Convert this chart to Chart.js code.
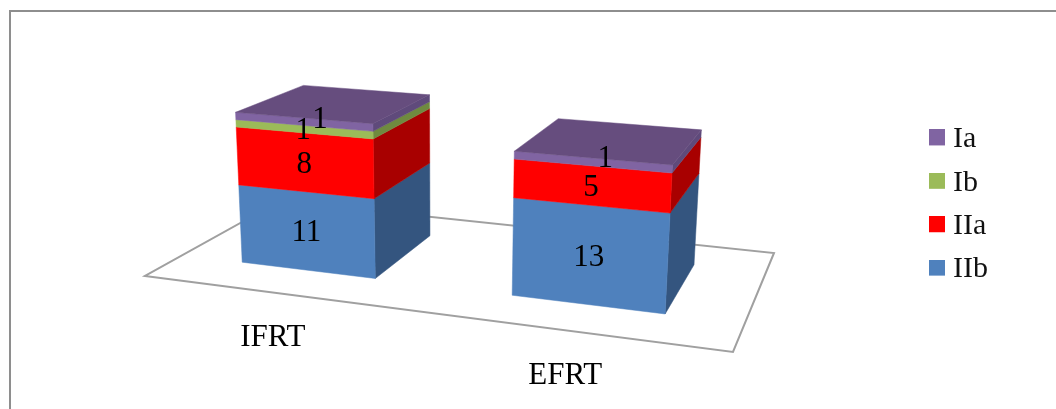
<!DOCTYPE html>
<html>
<head>
<meta charset="utf-8">
<title>IFRT / EFRT</title>
<script src="https://cdn.jsdelivr.net/npm/chart.js@4"></script>
<style>
    html, body { margin: 0; padding: 0; background: #fff; overflow: hidden; }
    #wrap { position: relative; width: 1056px; height: 409px; }
    #frame { position: absolute; left: 9px; top: 10px; right: 0; bottom: 0; border-left: 2px solid #8e8e8e; border-top: 2px solid #8e8e8e; pointer-events: none; }
</style>
</head>
<body>
<div id="wrap">
    <canvas id="stageChart" width="1056" height="409"></canvas>
    <div id="frame"></div>
</div>
<script>
    const categories = ['IFRT', 'EFRT'];
    const seriesNames = ['IIb', 'IIa', 'Ib', 'Ia'];
    const valuesIIb = [11, 13];
    const valuesIIa = [8, 5];
    const valuesIb = [1, 0];
    const valuesIa = [1, 1];

    const frontColors = ['#4f81bd', '#ff0000', '#9bbb59', '#8064a2'];
    const sideColors = ['#34557f', '#a80000', '#6f8a3f', '#5f4a7b'];
    const topColor = '#664d7e';
    const fontName = '"Liberation Serif", "Times New Roman", serif';

    // camera for the stage: u across, v into depth, t = stack value
    const camX = [487.92, 191.45, -0.694, 145];
    const camY = [27.94, -34.48, -7.55, 276];
    const camW = [-0.13653, 0.20161, -0.00156, 1];
    const depthFront = 0.245;
    const depthBack = 0.766;
    const barShiftU = -0.003;

    function project(u, v, t) {
        const w = camW[0] * u + camW[1] * v + camW[2] * t + camW[3];
        return {
            x: (camX[0] * u + camX[1] * v + camX[2] * t + camX[3]) / w,
            y: (camY[0] * u + camY[1] * v + camY[2] * t + camY[3]) / w
        };
    }

    function fillFace(ctx, pts, color) {
        ctx.beginPath();
        pts.forEach((p, i) => i ? ctx.lineTo(p.x, p.y) : ctx.moveTo(p.x, p.y));
        ctx.closePath();
        ctx.fillStyle = color;
        ctx.strokeStyle = color;
        ctx.lineWidth = 0.5;
        ctx.fill();
        ctx.stroke();
    }

    // Legend swatch as a point style, extra height lifts it level with the text
    function swatch(color) {
        const c = document.createElement('canvas');
        c.width = 16;
        c.height = 20;
        const g = c.getContext('2d');
        g.fillStyle = color;
        g.fillRect(0, 0, 16, 16);
        return c;
    }

    // Replaces the flat bars with boxes standing on a floor plate
    const boxBars = {
        id: 'boxBars',
        beforeDatasetDraw() {
            return false;
        },
        beforeDatasetsDraw(chart) {
            const ctx = chart.ctx;
            const area = chart.chartArea;
            const yScale = chart.scales.y;
            const toU = px => (px - area.left) / area.width + barShiftU;

            ctx.save();
            ctx.beginPath();
            [[0, 0], [1, 0], [1, 1], [0, 1]].forEach(([u, v], i) => {
                const p = project(u, v, 0);
                i ? ctx.lineTo(p.x, p.y) : ctx.moveTo(p.x, p.y);
            });
            ctx.closePath();
            ctx.strokeStyle = '#a0a0a0';
            ctx.lineWidth = 2;
            ctx.stroke();

            categories.forEach((name, j) => {
                let u0, u1, uMid, topT = 0, topIndex = 0;
                chart.data.datasets.forEach((ds, i) => {
                    if (!ds.data[j]) return;
                    const bar = chart.getDatasetMeta(i).data[j];
                    u0 = toU(bar.x - bar.width / 2);
                    u1 = toU(bar.x + bar.width / 2);
                    uMid = toU(bar.x);
                    const t0 = yScale.getValueForPixel(bar.base);
                    const t1 = yScale.getValueForPixel(bar.y);
                    fillFace(ctx, [project(u1, depthFront, t0), project(u1, depthBack, t0), project(u1, depthBack, t1), project(u1, depthFront, t1)], sideColors[i]);
                    fillFace(ctx, [project(u0, depthFront, t0), project(u1, depthFront, t0), project(u1, depthFront, t1), project(u0, depthFront, t1)], frontColors[i]);
                    topT = t1;
                    topIndex = i;
                });
                fillFace(ctx, [project(u0, depthFront, topT), project(u1, depthFront, topT), project(u1, depthBack, topT), project(u0, depthBack, topT)], topColor);

                ctx.fillStyle = '#000';
                ctx.textAlign = 'center';
                ctx.textBaseline = 'middle';
                ctx.font = '31px ' + fontName;

                // value labels, the top one is nudged back onto the lid
                chart.data.datasets.forEach((ds, i) => {
                    if (!ds.data[j]) return;
                    const bar = chart.getDatasetMeta(i).data[j];
                    const tMid = (yScale.getValueForPixel(bar.base) + yScale.getValueForPixel(bar.y)) / 2;
                    const isTop = i === topIndex;
                    const p = project(uMid + (isTop ? 0.012 : 0), depthFront + (isTop ? 0.08 : 0), tMid);
                    ctx.fillText(String(ds.data[j]), p.x, p.y + 2);
                });

                const foot = project(uMid, 0, 0);
                ctx.fillText(name, foot.x - 2, foot.y + 45);
            });
            ctx.restore();
        }
    };

    new Chart(document.getElementById('stageChart').getContext('2d'), {
        type: 'bar',
        data: {
            labels: categories,
            datasets: [valuesIIb, valuesIIa, valuesIb, valuesIa].map((values, i) => ({
                label: seriesNames[i],
                data: values,
                backgroundColor: frontColors[i],
                borderWidth: 0,
                categoryPercentage: 1,
                barPercentage: 0.51
            }))
        },
        options: {
            responsive: false,
            animation: false,
            layout: { padding: { right: 58 } },
            scales: {
                x: { stacked: true, display: false },
                y: { stacked: true, display: false, min: 0, max: 25 }
            },
            plugins: {
                tooltip: { enabled: false },
                legend: {
                    position: 'right',
                    reverse: true,
                    labels: {
                        usePointStyle: true,
                        boxWidth: 2,
                        padding: 13.4,
                        color: '#111',
                        font: { family: fontName, size: 30 },
                        generateLabels(chart) {
                            const items = Chart.defaults.plugins.legend.labels.generateLabels(chart);
                            items.forEach(item => { item.pointStyle = swatch(item.fillStyle); });
                            return items;
                        }
                    }
                }
            }
        },
        plugins: [boxBars]
    });
</script>
</body>
</html>
